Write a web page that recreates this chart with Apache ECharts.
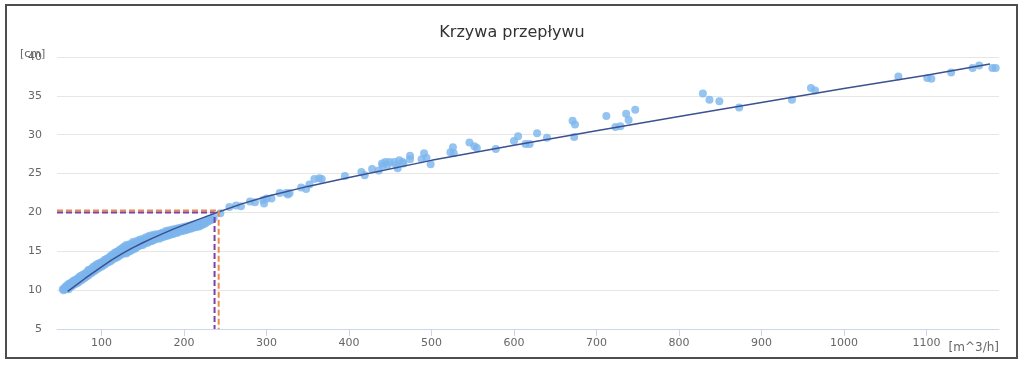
<!DOCTYPE html>
<html><head><meta charset="utf-8">
<script src="https://cdn.jsdelivr.net/npm/echarts@6/dist/echarts.min.js"></script>
<style>html,body{margin:0;padding:0;background:#fff}#c{width:1024px;height:367px}</style>
</head><body><div id="c"></div>
<script>
// ---- data ----
const chartTitle = 'Krzywa przepływu';
const xTicks = [100, 200, 300, 400, 500, 600, 700, 800, 900, 1000, 1100];
// dense low-flow measurements [flow m^3/h, level cm]
const measuredLow = [
 [53,10.1],[54,10.0],[55,10.2],[56,10.1],[56,10.4],[58,10.2],[58,10.6],[60,10.1],[60,10.5],[60,10.8],
 [62,10.4],[62,10.9],[64,10.5],[64,11.0],[66,10.7],[66,11.2],[68,10.8],[68,11.3],[70,10.9],[70,11.4],
 [72,11.0],[72,11.6],[74,11.2],[74,11.8],[76,11.3],[76,11.9],[78,11.5],[78,12.0],[80,11.6],[80,12.1],
 [82,11.8],[82,12.3],[84,11.9],[84,12.6],[86,12.1],[86,12.6],[88,12.2],[88,12.8],[90,12.4],[90,13.0],
 [92,12.5],[92,13.1],[94,12.7],[94,13.3],[96,12.8],[96,13.4],[98,13.0],[98,13.5],[100,13.0],[100,13.6],
 [102,13.2],[102,13.7],[104,13.3],[104,13.9],[106,13.5],[106,14.0],[108,13.6],[108,14.1],[110,13.7],[110,14.3],
 [112,13.8],[112,14.5],[114,14.0],[114,14.6],[116,14.1],[116,14.8],[118,14.2],[118,14.9],[120,14.3],[120,15.0],
 [122,14.5],[122,15.2],[124,14.6],[124,15.3],[126,14.7],[126,15.5],[128,14.8],[128,15.6],[130,14.7],[130,15.4],
 [130,15.8],[132,14.9],[132,15.6],[134,15.0],[134,15.9],[136,15.1],[136,15.8],[138,15.3],[138,16.2],[140,15.3],
 [140,16.0],[142,15.5],[142,16.3],[144,15.6],[144,16.1],[146,15.7],[146,16.5],[148,15.8],[148,16.4],[150,15.8],
 [150,16.6],[152,16.0],[152,16.5],[154,16.1],[154,16.8],[156,16.1],[156,16.7],[158,16.3],[158,17.0],[160,16.3],
 [160,16.9],[162,16.4],[162,17.1],[164,16.5],[164,17.0],[166,16.6],[166,17.2],[168,16.7],[168,17.1],[170,16.6],
 [170,17.2],[172,16.8],[172,17.3],[174,16.8],[174,17.4],[176,16.9],[176,17.3],[178,17.0],[178,17.6],[180,17.0],
 [180,17.5],[182,17.1],[182,17.7],[184,17.2],[184,17.6],[186,17.2],[186,17.8],[188,17.3],[188,17.7],[190,17.4],
 [190,17.9],[192,17.4],[192,17.8],[194,17.5],[194,18.0],[196,17.6],[196,17.9],[198,17.6],[198,18.1],[200,17.7],
 [200,18.0],[202,17.7],[202,18.2],[204,17.8],[204,18.1],[206,17.9],[206,18.3],[208,17.9],[208,18.2],[210,18.0],
 [210,18.4],[212,18.1],[212,18.3],[214,18.1],[214,18.5],[216,18.2],[216,18.4],[218,18.2],[218,18.6],[220,18.3],
 [220,18.5],[222,18.4],[222,18.7],[224,18.5],[224,18.7],[226,18.6],[226,18.9],[228,18.8],[230,18.9],[230,19.1],
 [232,19.0],[234,19.1],[236,19.3],[244,19.9]
];
// sparse high-flow measurements
const measuredHigh = [
 [255,20.7],[263,20.9],[269,20.8],[280,21.4],[286,21.3],[296,21.6],[297,21.15],[300,21.8],[306,21.8],[316,22.5],
 [324,22.5],[326,22.3],[328,22.5],[342,23.2],[348,23.0],[352,23.6],[358,24.3],[364,24.4],[367,24.3],[395,24.7],
 [415,25.2],[419,24.8],[428,25.6],[436,25.4],[440,26.3],[441,26.0],[444,26.5],[447,26.1],[449,26.5],[455,26.5],
 [457,26.1],[459,25.7],[461,26.7],[465,26.5],[466,26.3],[474,27.3],[474,26.85],[488,26.85],[491,27.6],[494,27.0],
 [499,26.2],[523,27.75],[526,28.4],[527,27.6],[546,29.0],[552,28.5],[555,28.3],[578,28.15],[600,29.2],[605,29.8],
 [614,28.8],[619,28.8],[628,30.2],[640,29.6],[671,31.8],[674,31.3],[673,29.7],[712,32.4],[723,31.0],[729,31.1],
 [736,32.7],[739,31.9],[747,33.2],[829,35.3],[837,34.5],[849,34.3],[873,33.5],[937,34.5],[960,36.0],[965,35.7],
 [1066,37.5],[1101,37.3],[1106,37.2],[1130,38.0],[1156,38.6],[1164,38.9],[1180,38.6],[1184,38.6]
];
// fitted rating curve
const curveFlow  = [59, 70, 80, 90, 100, 112, 125, 137, 150, 162, 175, 187, 200, 220, 240, 270, 300, 350, 400, 500, 600, 700, 800, 900, 1000, 1100, 1177];
const curveLevel = [9.85, 10.7, 11.5, 12.25, 13.0, 13.85, 14.7, 15.4, 16.1, 16.7, 17.3, 17.85, 18.4, 19.2, 20.0, 21.1, 22.05, 23.35, 24.5, 26.7, 28.65, 30.5, 32.35, 34.15, 35.95, 37.65, 39.1];
// read-off markers
const markerPurple = {flow: 237, level: 20.0};
const markerOrange = {flow: 242, level: 20.25};
const xMin = 46, xMax = 1188, yMin = 5, yMax = 40, yStep = 5;

// ---- chart ----
const FONT = 'DejaVu Sans';
const chart = echarts.init(document.getElementById('c'));
function guide(m, color) {
  return {
    type: 'line', symbol: 'none', silent: true, z: 5,
    data: [[xMin, m.level], [m.flow, m.level], [m.flow, yMin]],
    lineStyle: {color: color, width: 2, type: [6, 3]}
  };
}
chart.setOption({
  animation: false,
  backgroundColor: '#fff',
  title: {text: chartTitle, left: 'center', top: 20,
    textStyle: {fontFamily: FONT, fontSize: 16, fontWeight: 'normal', color: '#333'}},
  grid: {left: 57, right: 25, top: 57, bottom: 38, outerBoundsMode: 'none'},
  xAxis: {
    type: 'value', min: xMin, max: xMax,
    axisLine: {show: true, lineStyle: {color: '#ccd6eb', width: 1}},
    axisTick: {show: true, customValues: xTicks, length: 7, lineStyle: {color: '#ccd6eb'}},
    axisLabel: {customValues: xTicks, margin: 9, color: '#666', fontSize: 11, fontFamily: FONT,
      formatter: v => String(v)},
    splitLine: {show: false}
  },
  yAxis: {
    type: 'value', min: yMin, max: yMax, interval: yStep,
    axisLine: {show: false}, axisTick: {show: false},
    axisLabel: {margin: 15, color: '#666', fontSize: 11, fontFamily: FONT},
    splitLine: {lineStyle: {color: '#e6e6e6'}}
  },
  graphic: [
    {type: 'text', x: 20, y: 54, style: {text: '[cm]', fill: '#666', font: '11px ' + FONT, verticalAlign: 'middle'}},
    {type: 'text', x: 999, y: 348, style: {text: '[m^3/h]', fill: '#666', font: '12px ' + FONT, align: 'right', verticalAlign: 'middle'}},
    {type: 'rect', silent: true, z: 100, shape: {x: 6, y: 5, width: 1011, height: 353},
      style: {fill: 'transparent', stroke: '#4d4d4d', lineWidth: 2}}
  ],
  series: [
    {type: 'scatter', data: measuredLow, symbolSize: 8, itemStyle: {color: '#7cb5ec'}, z: 2},
    {type: 'scatter', data: measuredHigh, symbolSize: 8, itemStyle: {color: '#7cb5ec'}, z: 2},
    {type: 'line', data: curveFlow.map((f, i) => [f, curveLevel[i]]), symbol: 'none', smooth: false,
      lineStyle: {color: '#3b5190', width: 1.5}, z: 4},
    guide(markerOrange, '#ee8a48'),
    guide(markerPurple, '#7a42a8')
  ]
});
</script></body></html>
